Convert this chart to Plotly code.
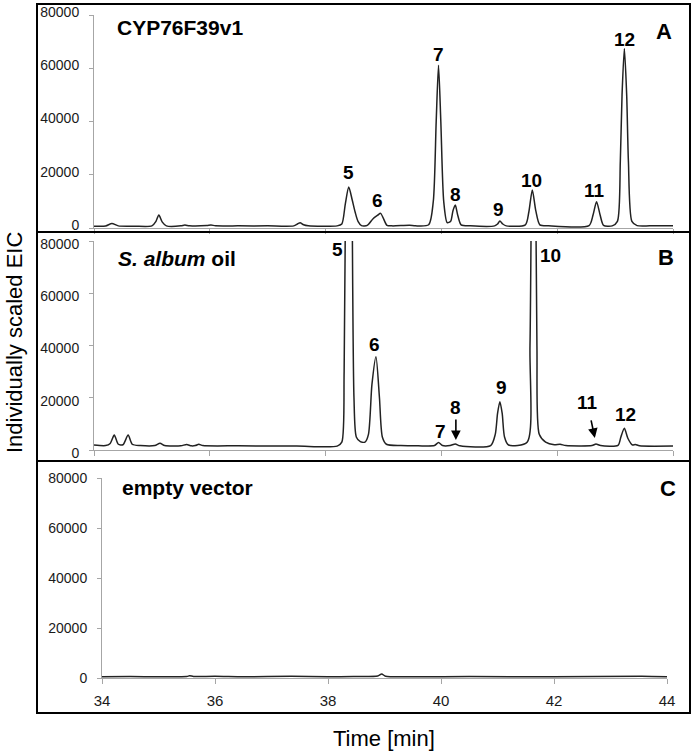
import plotly.graph_objects as go

W, H = 696, 755

# ---------------- data ----------------
time_a = [34.00, 34.20, 34.31, 34.42, 34.70, 35.00, 35.07, 35.12, 35.18, 35.25, 35.50, 35.57, 35.65,
          35.95, 36.02, 36.10, 36.50, 37.00, 37.45, 37.52, 37.56, 37.62, 37.70, 38.20, 38.28, 38.34,
          38.40, 38.46, 38.51, 38.56, 38.62, 38.72, 38.82, 38.90, 38.95, 39.00, 39.06, 39.15, 39.45,
          39.55, 39.78, 39.86, 39.91, 39.95, 39.99, 40.04, 40.10, 40.16, 40.20, 40.24, 40.28, 40.34,
          40.50, 40.92, 40.97, 41.01, 41.06, 41.12, 41.45, 41.51, 41.57, 41.63, 41.70, 41.85, 42.55,
          42.62, 42.68, 42.74, 42.80, 42.95, 43.04, 43.09, 43.12, 43.16, 43.20, 43.23, 43.29, 43.38,
          43.60, 44.00]
eic_a = [700, 750, 1700, 800, 700, 800, 2500, 4900, 2200, 800, 800, 1100, 800,
         900, 1100, 850, 800, 800, 800, 1600, 2000, 1200, 800, 800, 1500, 9000,
         15400, 10500, 6000, 2500, 900, 1000, 3500, 4800, 5500, 3500, 1000, 800, 1000,
         800, 1200, 10000, 40000, 61100, 40000, 10000, 2000, 2500, 6500, 8600, 5000, 1200,
         800, 800, 1500, 2600, 1500, 800, 1200, 6000, 14300, 6500, 1200, 800, 900,
         5000, 9900, 5000, 1000, 800, 2500, 25000, 50000, 67400, 50000, 25000, 2500, 900,
         800, 800]

time_b = [34.00, 34.20, 34.28, 34.35, 34.42, 34.50, 34.59, 34.66, 34.80, 35.05, 35.14, 35.22, 35.50,
          35.60, 35.68, 35.75, 35.81, 35.88, 36.50, 37.50, 38.20, 38.28, 38.32, 38.35, 38.40, 38.45,
          38.49, 38.53, 38.60, 38.68, 38.74, 38.80, 38.87, 38.93, 38.98, 39.05, 39.30, 39.60, 39.88,
          39.95, 40.02, 40.15, 40.24, 40.32, 40.85, 40.93, 40.97, 41.01, 41.05, 41.09, 41.16, 41.48,
          41.53, 41.59, 41.65, 41.69, 41.80, 41.95, 42.05, 42.15, 42.60, 42.67, 42.75, 43.05, 43.10,
          43.16, 43.22, 43.30, 43.35, 43.42, 44.00]
eic_b = [1900, 1700, 2500, 5700, 2200, 2000, 5700, 2200, 1700, 1700, 2600, 1700, 1600,
         2100, 1600, 1700, 2200, 1700, 1600, 1500, 1500, 3000, 30000, 120000, 200000, 120000,
         20000, 5000, 3200, 3000, 6000, 25000, 35700, 20000, 5000, 2200, 1700, 1600, 1700,
         2900, 1700, 1700, 2300, 1600, 1700, 6000, 14000, 18500, 14000, 5000, 1900, 3000,
         40000, 200000, 40000, 6000, 3000, 2000, 2200, 1700, 1700, 2300, 1700, 1800, 5000,
         8300, 4500, 1900, 2100, 1600, 1500]

time_c = [34.00, 34.50, 35.00, 35.50, 35.55, 35.62, 36.00, 36.50, 37.35, 38.00, 38.45, 38.88, 38.95,
          39.02, 39.50, 40.50, 42.00, 43.55, 44.00]
eic_c = [500, 550, 500, 600, 900, 600, 700, 500, 650, 500, 600, 800, 1600,
         700, 500, 550, 500, 700, 500]

x_ticks = [34, 36, 38, 40, 42, 44]
y_ticks = [0, 20000, 40000, 60000, 80000]

panel_titles = ["<b>CYP76F39v1</b>", "<b><i>S. album</i> oil</b>", "<b>empty vector</b>"]
panel_letters = ["A", "B", "C"]

labels_a = ["5", "6", "7", "8", "9", "10", "11", "12"]
labels_a_t = [38.39, 38.90, 39.95, 40.25, 40.99, 41.55, 42.64, 43.17]
labels_a_y = [20700, 10500, 65000, 12400, 6800, 18000, 14000, 70900]

labels_b = ["5", "6", "7", "8", "9", "10", "11", "12"]
labels_b_t = [38.20, 38.84, 39.98, 40.25, 41.04, 41.89, 42.53, 43.18]
labels_b_y = [76600, 40200, 7000, 16200, 23800, 74400, 18000, 13700]

# arrows in panel B (tail -> head)
arrow_tail_t = [40.25, 42.58]
arrow_tail_y = [12250, 11900]
arrow_head_t = [40.25, 42.65]
arrow_head_y = [3800, 4600]

# ---------------- layout helpers ----------------
def px_x(p):
    return p / W

def px_y(p):
    return 1 - p / H

FONT = "Arial, Liberation Sans, sans-serif"
AXIS_GREY = "#a6a6a6"
LINE = "#222222"

fig = go.Figure()
for i, (t, v) in enumerate([(time_a, eic_a), (time_b, eic_b), (time_c, eic_c)]):
    sfx = "" if i == 0 else str(i + 1)
    fig.add_trace(go.Scatter(x=t, y=v, mode="lines", xaxis="x" + sfx, yaxis="y" + sfx,
                             line=dict(color=LINE, width=1.5, shape="spline", smoothing=0.7),
                             showlegend=False, hoverinfo="skip"))

# domains (pixel based)
x_dom_ab = [px_x(94), px_x(673)]
x_dom_c = [px_x(102), px_x(667)]
y_doms = [[px_y(228), px_y(15)], [px_y(450), px_y(241)], [px_y(678), px_y(478)]]
x_doms = [x_dom_ab, x_dom_ab, x_dom_c]
y_label_shift = [-3, 3, 0]

layout = dict(width=W, height=H, margin=dict(l=0, r=0, t=0, b=0, pad=0, autoexpand=False),
              paper_bgcolor="white", plot_bgcolor="white",
              font=dict(family=FONT, color="#1a1a1a"), showlegend=False)

for i in range(3):
    sfx = "" if i == 0 else str(i + 1)
    layout["xaxis" + sfx] = dict(domain=x_doms[i], anchor="y" + sfx, range=[34, 44],
                                 tickvals=x_ticks, showticklabels=(i == 2),
                                 ticks="outside", ticklen=5, tickcolor=AXIS_GREY, tickwidth=1,
                                 showline=True, linecolor=AXIS_GREY, linewidth=1,
                                 showgrid=False, zeroline=False, automargin=False,
                                 tickfont=dict(size=15, family=FONT, color="#1a1a1a"),
                                 ticklabelstandoff=4, fixedrange=True)
    layout["yaxis" + sfx] = dict(domain=y_doms[i], anchor="x" + sfx, range=[0, 80000],
                                 tickvals=y_ticks, ticktext=[str(v) for v in y_ticks],
                                 ticks="outside", ticklen=4, tickcolor=AXIS_GREY, tickwidth=1,
                                 showline=True, linecolor=AXIS_GREY, linewidth=1,
                                 showgrid=False, zeroline=False, automargin=False,
                                 tickfont=dict(size=14, family=FONT, color="#1a1a1a"),
                                 ticklabelstandoff=7, ticklabelshift=y_label_shift[i],
                                 fixedrange=True)

fig.update_layout(**layout)

# panel boxes
boxes = [(37, 4, 690, 232), (37, 232, 690, 461), (37, 461, 690, 713)]
for (x0, y0, x1, y1) in boxes:
    fig.add_shape(type="rect", xref="paper", yref="paper",
                  x0=px_x(x0), x1=px_x(x1), y0=px_y(y1), y1=px_y(y0),
                  line=dict(color="black", width=2), fillcolor="rgba(0,0,0,0)")

ann = []
# panel titles
title_pos = [(115, 27), (116, 258), (120, 487)]
for txt, (x, y) in zip(panel_titles, title_pos):
    ann.append(dict(text=txt, xref="paper", yref="paper", x=px_x(x), y=px_y(y),
                    xanchor="left", yanchor="middle", showarrow=False,
                    font=dict(size=21, family=FONT, color="black")))
letter_pos = [(664, 31), (666, 257), (668, 488)]
for txt, (x, y) in zip(panel_letters, letter_pos):
    ann.append(dict(text="<b>%s</b>" % txt, xref="paper", yref="paper", x=px_x(x), y=px_y(y),
                    xanchor="center", yanchor="middle", showarrow=False,
                    font=dict(size=22, family=FONT, color="black")))

# peak labels
for txt, t, v in zip(labels_a, labels_a_t, labels_a_y):
    ann.append(dict(text="<b>%s</b>" % txt, xref="x", yref="y", x=t, y=v,
                    xanchor="center", yanchor="middle", showarrow=False,
                    font=dict(size=19, family=FONT, color="black")))
for txt, t, v in zip(labels_b, labels_b_t, labels_b_y):
    ann.append(dict(text="<b>%s</b>" % txt, xref="x2", yref="y2", x=t, y=v,
                    xanchor="center", yanchor="middle", showarrow=False,
                    font=dict(size=19, family=FONT, color="black")))

for tt, ty, ht, hy in zip(arrow_tail_t, arrow_tail_y, arrow_head_t, arrow_head_y):
    ann.append(dict(text="", xref="x2", yref="y2", x=ht, y=hy, axref="x2", ayref="y2",
                    ax=tt, ay=ty, showarrow=True, arrowhead=2, arrowsize=1.2,
                    arrowwidth=1.6, arrowcolor="black"))

# axis titles
ann.append(dict(text="Individually scaled EIC", xref="paper", yref="paper",
                x=px_x(14), y=px_y(343), textangle=-90, showarrow=False,
                xanchor="center", yanchor="middle",
                font=dict(size=22, family=FONT, color="black")))
ann.append(dict(text="Time [min]", xref="paper", yref="paper",
                x=px_x(384), y=px_y(738), showarrow=False,
                xanchor="center", yanchor="middle",
                font=dict(size=22, family=FONT, color="black")))

fig.update_layout(annotations=ann)
fig.write_html("out.html", config={"displayModeBar": False},
               post_script="document.body.style.margin='0';document.body.style.padding='0';")
